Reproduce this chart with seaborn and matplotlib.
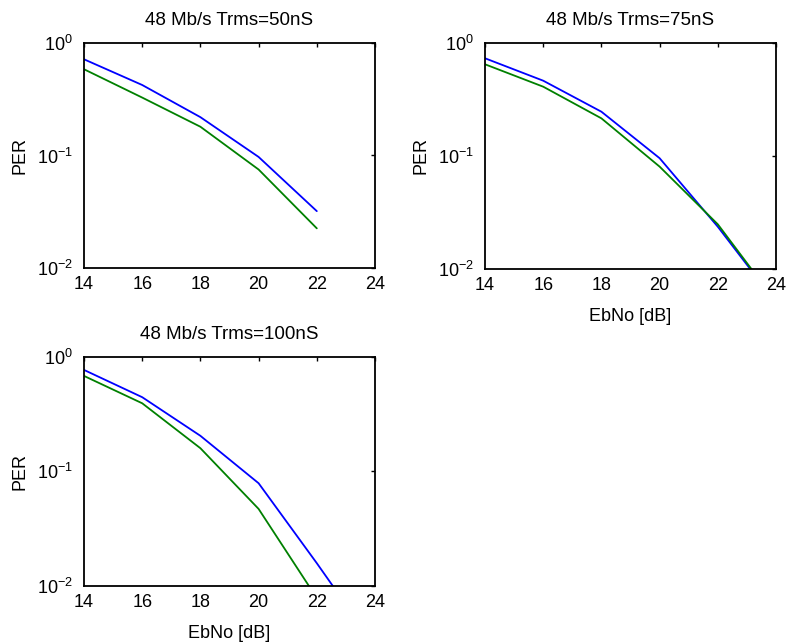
import matplotlib
matplotlib.use("Agg")
import matplotlib.pyplot as plt
import seaborn as sns
import pandas as pd

ebno = [14, 16, 18, 20, 22, 24]

# PER per case (blue / green curves)
per_50_blue = [0.716, 0.423, 0.219, 0.097, 0.032, None]
per_50_green = [0.584, 0.327, 0.180, 0.075, 0.0225, None]
per_75_blue = [0.728, 0.461, 0.245, 0.095, 0.0235, 0.005]
per_75_green = [0.644, 0.408, 0.214, 0.080, 0.0247, 0.0051]
per_100_blue = [0.766, 0.443, 0.204, 0.0787, 0.0158, 0.003]
per_100_green = [0.679, 0.392, 0.159, 0.047, 0.00785, 0.001]

titles = ["48 Mb/s Trms=50nS", "48 Mb/s Trms=75nS", "48 Mb/s Trms=100nS"]
xticks = [14, 16, 18, 20, 22, 24]
yticks = [1e-2, 1e-1, 1]
ytick_labels = [r"$10^{-2}$", r"$10^{-1}$", r"$10^{0}$"]

sns.set_style("white")
plt.rcParams['font.family'] = ['Liberation Sans', 'DejaVu Sans']
plt.rcParams['mathtext.default'] = 'regular'
plt.rcParams['text.color'] = 'black'
plt.rcParams['axes.labelcolor'] = 'black'
FS = 13


def make_df(blue, green):
    rows = []
    for x, b, g in zip(ebno, blue, green):
        if b is not None:
            rows.append({"EbNo": x, "PER": b, "curve": "a"})
        if g is not None:
            rows.append({"EbNo": x, "PER": g, "curve": "b"})
    return pd.DataFrame(rows)


def plot_panel(ax, df, title, xlabel=True):
    sns.lineplot(data=df, x="EbNo", y="PER", hue="curve",
                 palette={"a": (0, 0, 1), "b": (0, 0.5, 0)},
                 linewidth=1.3, legend=False, ax=ax)
    ax.set_yscale("log")
    ax.set_xlim(14, 24)
    ax.set_ylim(1e-2, 1)
    ax.set_xticks(xticks)
    ax.set_yticks(yticks)
    ax.set_yticklabels(ytick_labels)
    ax.minorticks_off()
    ax.tick_params(direction="in", top=True, right=True, length=3,
                   width=1, labelsize=FS, colors="black")
    ax.tick_params(axis="x", pad=6)
    ax.tick_params(axis="y", pad=8)
    for s in ax.spines.values():
        s.set_linewidth(1.3)
        s.set_color("black")
    ax.set_title(title, fontsize=13.5, pad=13)
    ax.set_ylabel("PER", fontsize=FS, labelpad=6)
    ax.set_xlabel("EbNo [dB]" if xlabel else "", fontsize=FS, labelpad=10)


fig = plt.figure(figsize=(7.88, 6.44), dpi=100)
ax1 = fig.add_axes([0.1066, 0.5839, 0.3693, 0.3494])
ax2 = fig.add_axes([0.6155, 0.5828, 0.3693, 0.3509])
ax3 = fig.add_axes([0.1066, 0.0901, 0.3693, 0.3561])

plot_panel(ax1, make_df(per_50_blue, per_50_green), titles[0], xlabel=False)
plot_panel(ax2, make_df(per_75_blue, per_75_green), titles[1])
plot_panel(ax3, make_df(per_100_blue, per_100_green), titles[2])

fig.savefig("out.png", dpi=100, facecolor="white")
